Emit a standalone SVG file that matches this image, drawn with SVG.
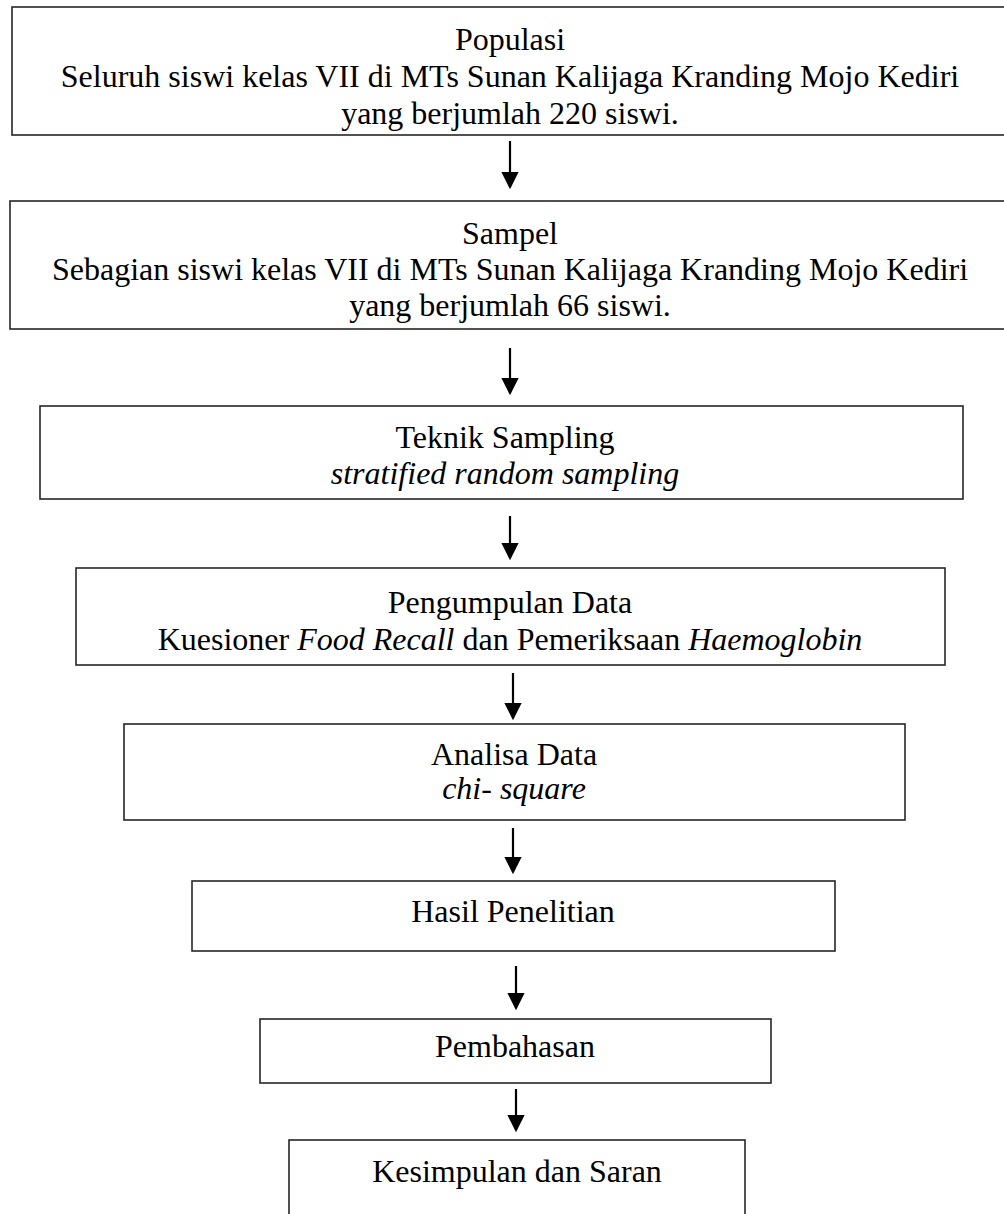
<svg xmlns="http://www.w3.org/2000/svg" width="1004" height="1214" viewBox="0 0 1004 1214">
<style>
.box{fill:#fff;stroke:#262626;stroke-width:1.6}
.t{font-family:"Liberation Serif","Times New Roman",serif;font-size:32px;fill:#000;text-anchor:middle}
.i{font-style:italic}
.c{stroke:#000;stroke-width:2.2;fill:none}
</style>
<defs>
<marker id="ah" markerWidth="8" markerHeight="8" refX="7" refY="4" orient="auto" markerUnits="strokeWidth"><path d="M0,0 L8,4 L0,8 Z" fill="#000"/></marker>
<clipPath id="c1"><rect x="12" y="7" width="1000" height="128"/></clipPath>
</defs>
<rect width="1004" height="1214" fill="#fff"/>
<g id="connectors">
<line class="c" x1="510" y1="141" x2="510" y2="187" marker-end="url(#ah)"/>
<line class="c" x1="510" y1="348" x2="510" y2="393" marker-end="url(#ah)"/>
<line class="c" x1="510" y1="516" x2="510" y2="558" marker-end="url(#ah)"/>
<line class="c" x1="513" y1="673" x2="513" y2="718" marker-end="url(#ah)"/>
<line class="c" x1="513" y1="828" x2="513" y2="872" marker-end="url(#ah)"/>
<line class="c" x1="516" y1="966" x2="516" y2="1008" marker-end="url(#ah)"/>
<line class="c" x1="516" y1="1089" x2="516" y2="1130" marker-end="url(#ah)"/>
</g>
<g id="populasi">
<rect class="box" x="12" y="7" width="1000" height="128"/>
<g clip-path="url(#c1)">
<text class="t" x="510" y="50">Populasi</text>
<text class="t" x="510" y="87">Seluruh siswi kelas VII di MTs Sunan Kalijaga Kranding Mojo Kediri</text>
<text class="t" x="510" y="124">yang berjumlah 220 siswi.</text>
</g>
</g>
<g id="sampel">
<rect class="box" x="10" y="201" width="1002" height="128"/>
<text class="t" x="510" y="244">Sampel</text>
<text class="t" x="510" y="280">Sebagian siswi kelas VII di MTs Sunan Kalijaga Kranding Mojo Kediri</text>
<text class="t" x="510" y="316">yang berjumlah 66 siswi.</text>
</g>
<g id="teknik">
<rect class="box" x="40" y="406" width="923" height="93"/>
<text class="t" x="505" y="448">Teknik Sampling</text>
<text class="t i" x="505" y="484">stratified random sampling</text>
</g>
<g id="pengumpulan">
<rect class="box" x="76" y="568" width="869" height="97"/>
<text class="t" x="510" y="613">Pengumpulan Data</text>
<text class="t" x="510" y="650">Kuesioner <tspan class="i">Food Recall</tspan> dan Pemeriksaan <tspan class="i">Haemoglobin</tspan></text>
</g>
<g id="analisa">
<rect class="box" x="124" y="724" width="781" height="96"/>
<text class="t" x="514" y="765">Analisa Data</text>
<text class="t i" x="514" y="799">chi- square</text>
</g>
<g id="hasil">
<rect class="box" x="192" y="881" width="643" height="70"/>
<text class="t" x="513" y="922">Hasil Penelitian</text>
</g>
<g id="pembahasan">
<rect class="box" x="260" y="1019" width="511" height="64"/>
<text class="t" x="515" y="1057">Pembahasan</text>
</g>
<g id="kesimpulan">
<rect class="box" x="289" y="1140" width="456" height="90"/>
<text class="t" x="517" y="1182">Kesimpulan dan Saran</text>
</g>
</svg>
